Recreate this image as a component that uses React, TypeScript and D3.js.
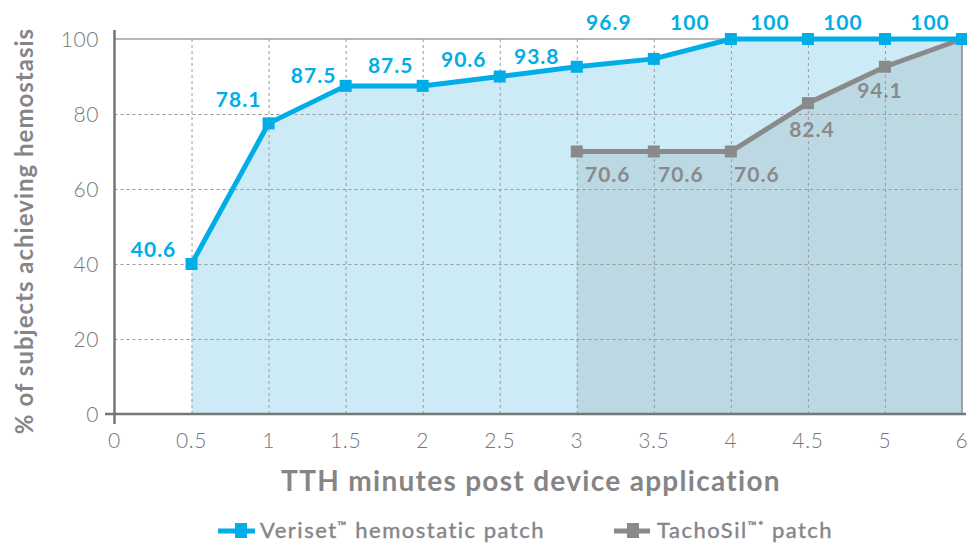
import React from "react";
import * as d3 from "d3";

// x categories (minutes) – evenly spaced on the axis, 5 -> 6 is one step
const minutes = ["0", "0.5", "1", "1.5", "2", "2.5", "3", "3.5", "4", "4.5", "5", "6"];
const yTicks = [0, 20, 40, 60, 80, 100];

// Veriset: plotted position + printed label
const verisetX = ["0.5", "1", "1.5", "2", "2.5", "3", "3.5", "4", "4.5", "5", "6"];
const verisetValues = [40, 77.5, 87.5, 87.5, 90, 92.6, 94.7, 100, 100, 100, 100];
const verisetLabels = ["40.6", "78.1", "87.5", "87.5", "90.6", "93.8", "96.9", "100", "100", "100", "100"];

// TachoSil
const tachoX = ["3", "3.5", "4", "4.5", "5", "6"];
const tachoValues = [70, 70, 70, 82.9, 92.6, 100];
const tachoLabels = ["70.6", "70.6", "70.6", "82.4", "94.1", ""];

// label nudges (layout only)
const verisetDx = [-38, -30, -32, -32, -36, -40, -45, -41, -38, -42, -32];
const verisetDy = [-7, -16, -3, -13, -10, -3, -29, -9, -9, -9, -9];
const tachoDx = [31, 27, 26, 4, -5, 0];
const tachoDy = [30, 30, 30, 34, 31, 0];

const BLUE = "#00ade6";
const GRAY = "#8a8a8c";
const AXIS = "#76767a";
const TITLE = "#858588";
const FONT = "Lato, 'Open Sans', sans-serif";

const App = () => {
  const width = 967;
  const height = 544;
  const x = d3.scalePoint<string>().domain(minutes).range([114.5, 962]).padding(0);
  const y = d3.scaleLinear().domain([0, 100]).range([414, 39]);

  const vPts: [number, number][] = verisetX.map((m, i) => [x(m)!, y(verisetValues[i])]);
  const tPts: [number, number][] = tachoX.map((m, i) => [x(m)!, y(tachoValues[i])]);

  const lineGen = d3.line<[number, number]>();
  const areaGen = d3.area<[number, number]>().x(d => d[0]).y0(y(0)).y1(d => d[1]);

  const sq = 12;

  return (
    <svg width={width} height={height} style={{ position: "absolute", left: 0, top: 0, background: "#fff" }}>
      {/* fills */}
      <path d={areaGen(vPts)!} fill="#cdebf7" />
      <path d={areaGen(tPts)!} fill="#bbd8e3" />

      {/* grid */}
      {yTicks.filter(t => t > 0 && t < 100).map(t => (
        <line key={"h" + t} x1={x("0")} x2={x("6")} y1={y(t) + 0.5} y2={y(t) + 0.5}
          stroke="#9a9a9e" strokeWidth={1} strokeDasharray="3,3" />
      ))}
      {minutes.filter(m => m !== "0" && m !== "6").map(m => (
        <line key={"v" + m} x1={x(m)! + 0.5} x2={x(m)! + 0.5} y1={y(100)} y2={y(0)}
          stroke="#9a9a9e" strokeWidth={1} strokeDasharray="3,3" />
      ))}
      <line x1={x("0")} x2={x("6")} y1={y(100)} y2={y(100)} stroke="#a0a0a4" strokeWidth={1.5} />
      <line x1={x("6")} x2={x("6")} y1={y(100)} y2={y(0)} stroke="#8a8a8e" strokeWidth={1.5} />

      {/* axes */}
      <line x1={x("0")} x2={x("0")} y1={30} y2={424} stroke={AXIS} strokeWidth={2.5} />
      <line x1={105} x2={966} y1={y(0)} y2={y(0)} stroke={AXIS} strokeWidth={2.5} />

      {yTicks.map(t => (
        <text key={"yt" + t} x={99} y={y(t)} dy="0.36em" textAnchor="end" letterSpacing={0.6}
          fontFamily={FONT} fontWeight={300} fontSize={21} fill={AXIS}>{t}</text>
      ))}
      {minutes.map(m => (
        <text key={"xt" + m} x={x(m)} y={448} textAnchor="middle" letterSpacing={0.6}
          fontFamily={FONT} fontWeight={300} fontSize={21} fill={AXIS}>{m}</text>
      ))}

      {/* series */}
      <path d={lineGen(tPts)!} fill="none" stroke={GRAY} strokeWidth={5} />
      {tPts.map((p, i) => (
        <rect key={"tp" + i} x={p[0] - sq / 2} y={p[1] - sq / 2} width={sq} height={sq} fill={GRAY} />
      ))}
      <path d={lineGen(vPts)!} fill="none" stroke={BLUE} strokeWidth={5} />
      {vPts.map((p, i) => (
        <rect key={"vp" + i} x={p[0] - sq / 2} y={p[1] - sq / 2} width={sq} height={sq} fill={BLUE} />
      ))}

      {verisetLabels.map((l, i) => (
        <text key={"vl" + i} x={vPts[i][0] + verisetDx[i]} y={vPts[i][1] + verisetDy[i]} textAnchor="middle"
          letterSpacing={1} fontFamily={FONT} fontWeight={700} fontSize={21} fill={BLUE}>{l}</text>
      ))}
      {tachoLabels.map((l, i) => l ? (
        <text key={"tl" + i} x={tPts[i][0] + tachoDx[i]} y={tPts[i][1] + tachoDy[i]} textAnchor="middle"
          letterSpacing={1} fontFamily={FONT} fontWeight={700} fontSize={21} fill={GRAY}>{l}</text>
      ) : null)}

      {/* titles */}
      <text x={531} y={491} textAnchor="middle" fontFamily={FONT} fontWeight={700} fontSize={28}
        letterSpacing={1.3} fill={TITLE}>
        TTH minutes post device application
      </text>
      <text transform={`translate(33,231) rotate(-90)`} textAnchor="middle" fontFamily={FONT}
        fontWeight={700} fontSize={24} letterSpacing={1} fill={TITLE}>% of subjects achieving hemostasis</text>

      {/* legend */}
      <g transform="translate(218,531)">
        <line x1={0} x2={37} y1={0} y2={0} stroke={BLUE} strokeWidth={5} />
        <rect x={17} y={-8} width={12} height={15} fill={BLUE} />
        <text x={42} y={7} fontFamily={FONT} fontWeight={400} fontSize={22} letterSpacing={1.5}
          fill={TITLE} stroke={TITLE} strokeWidth={0.4}>
          Veriset<tspan fontSize={12} dy={-8}>™</tspan><tspan dy={8}> hemostatic patch</tspan>
        </text>
      </g>
      <g transform="translate(614,531)">
        <line x1={0} x2={36} y1={0} y2={0} stroke={GRAY} strokeWidth={5} />
        <rect x={13} y={-8} width={12} height={15} fill={GRAY} />
        <text x={43} y={7} fontFamily={FONT} fontWeight={400} fontSize={22} letterSpacing={1.5}
          fill={TITLE} stroke={TITLE} strokeWidth={0.4}>
          TachoSil<tspan fontSize={12} dy={-8}>™*</tspan><tspan dy={8}> patch</tspan>
        </text>
      </g>
    </svg>
  );
};

export default App;
